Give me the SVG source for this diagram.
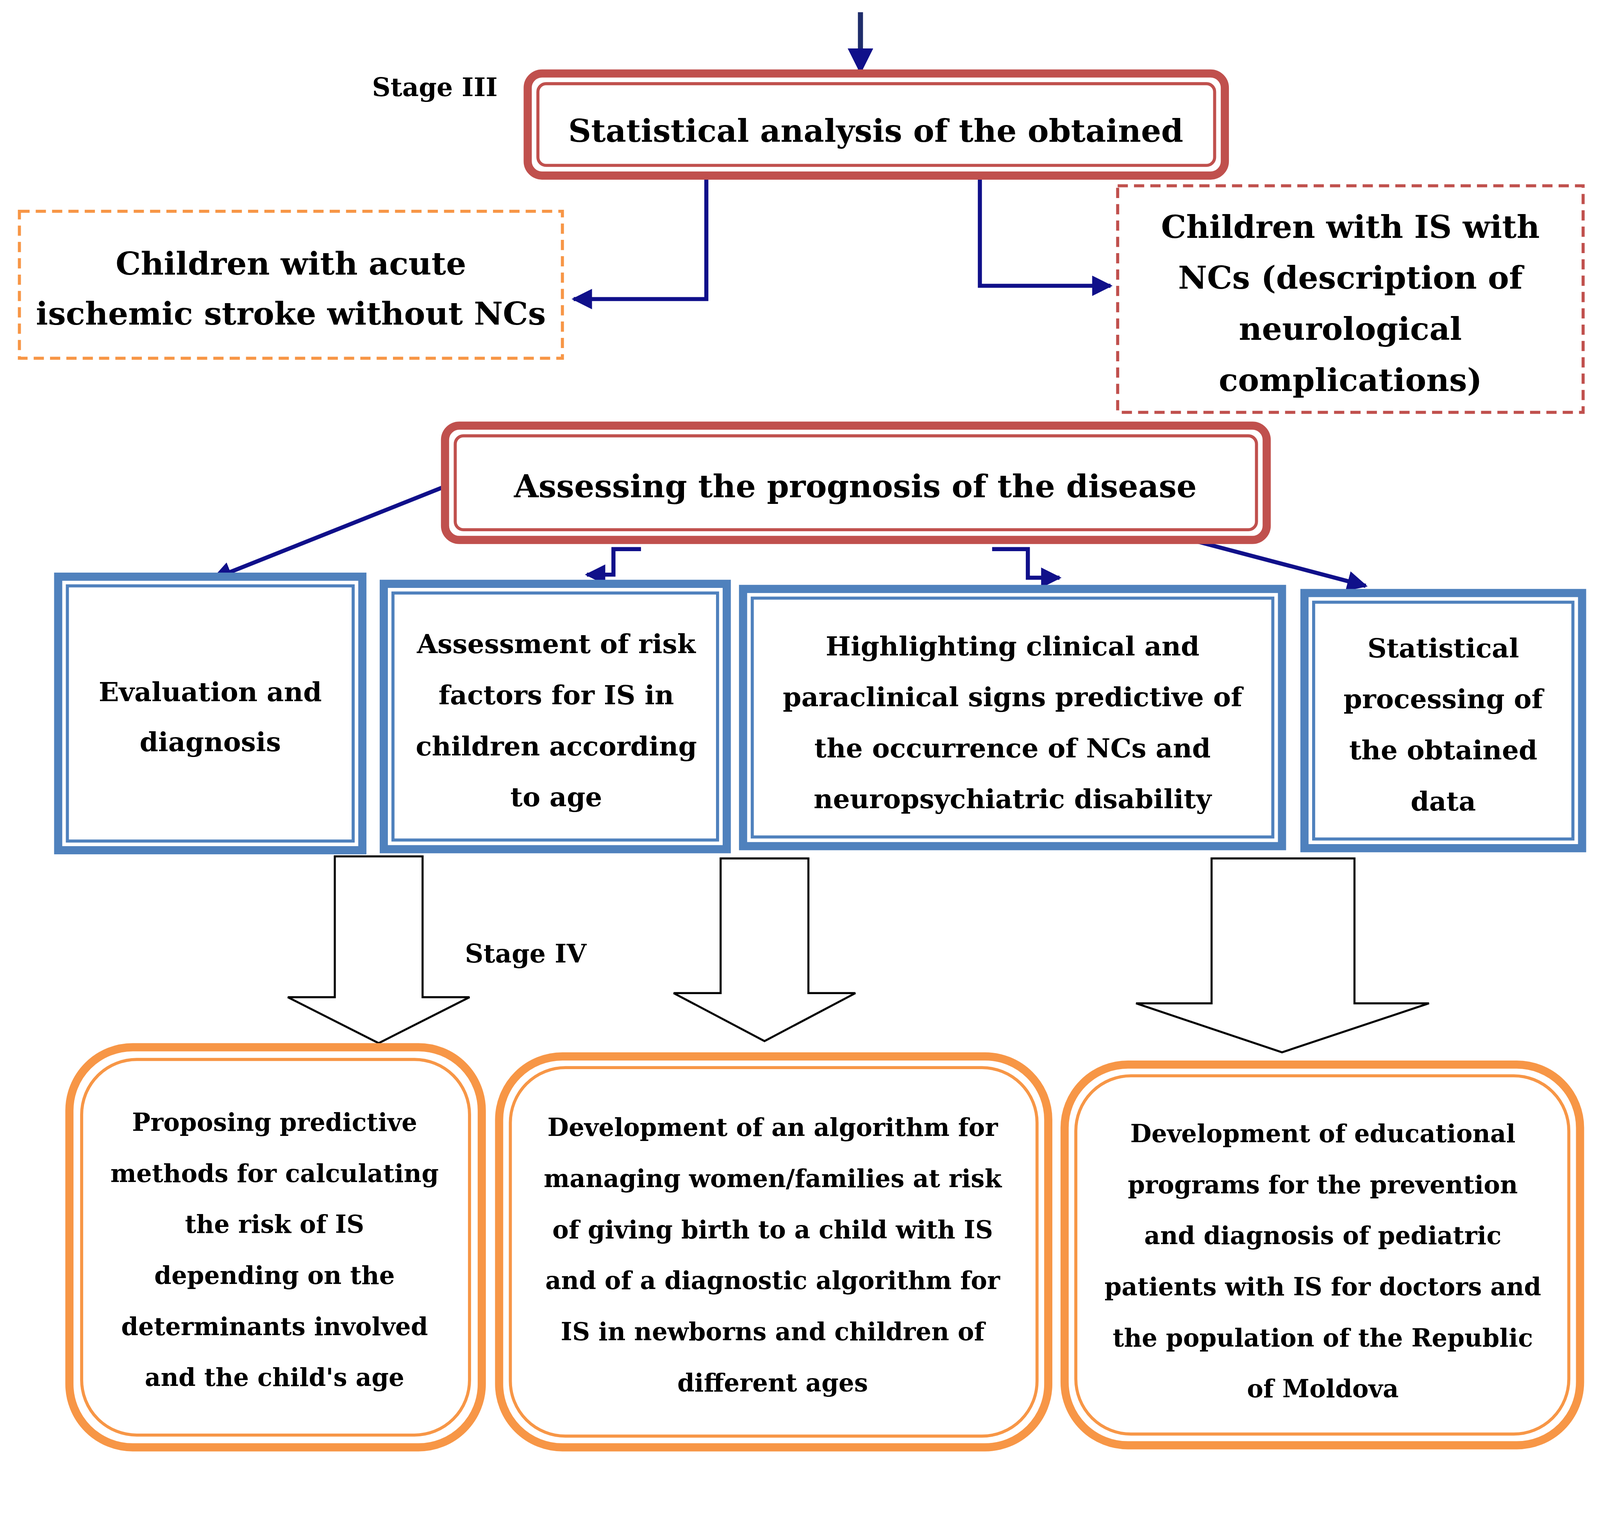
<svg xmlns="http://www.w3.org/2000/svg" width="4282" height="3922" viewBox="0 0 4282 3922">
<style>
text{font-family:"DejaVu Serif","Liberation Serif",serif;font-weight:bold;fill:#000;text-anchor:middle}
.red{fill:#fff;stroke:#c0504d}
.blue{fill:#fff;stroke:#4f81bd}
.or{fill:#fff;stroke:#f79646}
.o{stroke-width:8}
.i{stroke-width:3;fill:none}
.c{fill:none;stroke:#10108a;stroke-width:4}
.blk{fill:#fff;stroke:#000;stroke-width:2}
.t34{font-size:31px}.t28{font-size:26px}.t26{font-size:24px}
</style>
<defs><marker id="ah" viewBox="0 0 10 10" refX="9" refY="5" markerWidth="5" markerHeight="5" orient="auto" markerUnits="strokeWidth"><path d="M0,0L10,5L0,10z" fill="#10108a"/></marker></defs>
<rect width="4282" height="3922" fill="#fff"/>
<g transform="scale(2.613)">
<g id="connectors">
<line x1="843" y1="12" x2="843" y2="70" stroke="#1f2d6b" stroke-width="5" marker-end="url(#ah)"/>
<polyline class="c" points="826,174 692,174 692,293 562,293" marker-end="url(#ah)"/>
<polyline class="c" points="830,168 960,168 960,280 1088,280" marker-end="url(#ah)"/>
<line class="c" x1="440" y1="475" x2="209" y2="567" marker-end="url(#ah)"/>
<polyline class="c" points="628,538 601,538 601,563 575,563" marker-end="url(#ah)"/>
<polyline class="c" points="972,538 1007,538 1007,566 1038,566" marker-end="url(#ah)"/>
<line class="c" x1="1095" y1="510" x2="1338" y2="574" marker-end="url(#ah)"/>
<polygon class="blk" points="328,839 414,839 414,977 460,977 371,1022 282,977 328,977"/>
<polygon class="blk" points="706,841 792,841 792,973 838,973 749,1020 660,973 706,973"/>
<polygon class="blk" points="1187,841 1327,841 1327,983 1400,983 1256,1031 1113,983 1187,983"/>
</g>
<text x="426" y="94" style="font-size:25px">Stage III</text>
<text x="515" y="943" style="font-size:25px">Stage IV</text>
<g id="n1"><rect class="red o" x="517" y="72" width="683" height="100" rx="14"/><rect class="red i" x="527" y="82" width="663" height="80" rx="8"/><text x="858" y="139" style="font-size:31px">Statistical analysis of the obtained</text></g>
<g id="n2"><rect x="19" y="207" width="532" height="144" fill="#fff" stroke="#f79646" stroke-width="3" stroke-dasharray="10,6"/><text class="t34" x="285" y="269">Children with acute</text><text class="t34" x="285" y="318">ischemic stroke without NCs</text></g>
<g id="n3"><rect x="1095" y="182" width="456" height="222" fill="#fff" stroke="#c0504d" stroke-width="3" stroke-dasharray="10,6"/><text class="t34" x="1323" y="233">Children with IS with</text><text class="t34" x="1323" y="283">NCs (description of</text><text class="t34" x="1323" y="333">neurological</text><text class="t34" x="1323" y="383">complications)</text></g>
<g id="n4"><rect class="red o" x="436" y="417" width="805" height="112" rx="14"/><rect class="red i" x="446" y="427" width="785" height="92" rx="8"/><text class="t34" x="838" y="487">Assessing the prognosis of the disease</text></g>
<g id="n5"><rect class="blue o" x="57" y="565" width="298" height="268"/><rect class="blue i" x="66" y="574" width="280" height="250"/><text class="t28" x="206" y="687">Evaluation and</text><text class="t28" x="206" y="736">diagnosis</text></g>
<g id="n6"><rect class="blue o" x="376" y="572" width="336" height="260"/><rect class="blue i" x="385" y="581" width="318" height="242"/><text class="t28" x="545" y="640">Assessment of risk</text><text class="t28" x="545" y="690">factors for IS in</text><text class="t28" x="545" y="740">children according</text><text class="t28" x="545" y="790">to age</text></g>
<g id="n7"><rect class="blue o" x="728" y="577" width="528" height="252"/><rect class="blue i" x="737" y="586" width="510" height="234"/><text class="t28" x="992" y="642">Highlighting clinical and</text><text class="t28" x="992" y="692">paraclinical signs predictive of</text><text class="t28" x="992" y="742">the occurrence of NCs and</text><text class="t28" x="992" y="792">neuropsychiatric disability</text></g>
<g id="n8"><rect class="blue o" x="1278" y="581" width="272" height="250"/><rect class="blue i" x="1287" y="590" width="254" height="232"/><text class="t28" x="1414" y="644">Statistical</text><text class="t28" x="1414" y="694">processing of</text><text class="t28" x="1414" y="744">the obtained</text><text class="t28" x="1414" y="794">data</text></g>
<g id="n9"><rect class="or o" x="68" y="1026" width="404" height="392" rx="62"/><rect class="or i" x="80" y="1038" width="380" height="368" rx="54"/><text class="t26" x="269" y="1108">Proposing predictive</text><text class="t26" x="269" y="1158">methods for calculating</text><text class="t26" x="269" y="1208">the risk of IS</text><text class="t26" x="269" y="1258">depending on the</text><text class="t26" x="269" y="1308">determinants involved</text><text class="t26" x="269" y="1358">and the child's age</text></g>
<g id="n10"><rect class="or o" x="489" y="1035" width="538" height="383" rx="62"/><rect class="or i" x="500" y="1046" width="516" height="361" rx="54"/><text class="t26" x="757" y="1113">Development of an algorithm for</text><text class="t26" x="757" y="1163">managing women/families at risk</text><text class="t26" x="757" y="1213">of giving birth to a child with IS</text><text class="t26" x="757" y="1263">and of a diagnostic algorithm for</text><text class="t26" x="757" y="1313">IS in newborns and children of</text><text class="t26" x="757" y="1363">different ages</text></g>
<g id="n11"><rect class="or o" x="1043" y="1043" width="505" height="373" rx="62"/><rect class="or i" x="1054" y="1054" width="483" height="351" rx="54"/><text class="t26" x="1296" y="1119">Development of educational</text><text class="t26" x="1296" y="1169">programs for the prevention</text><text class="t26" x="1296" y="1219">and diagnosis of pediatric</text><text class="t26" x="1296" y="1269">patients with IS for doctors and</text><text class="t26" x="1296" y="1319">the population of the Republic</text><text class="t26" x="1296" y="1369">of Moldova</text></g>
</g>
</svg>
